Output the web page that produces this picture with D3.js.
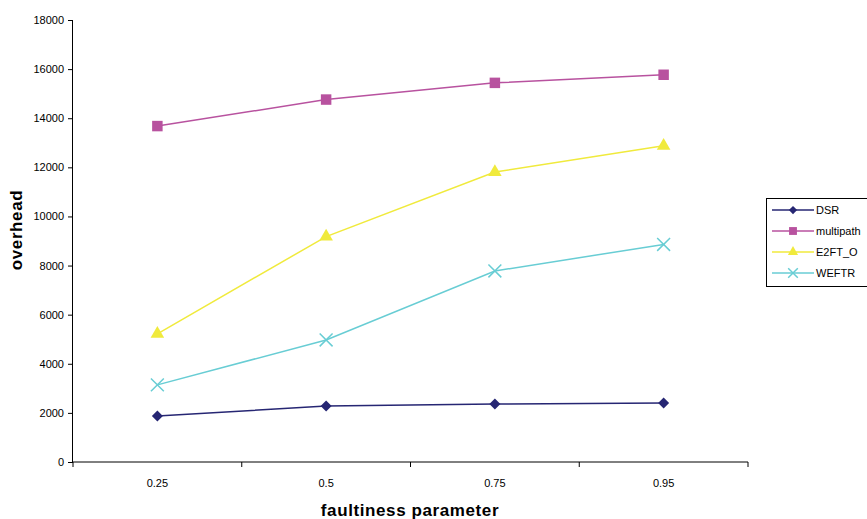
<!DOCTYPE html>
<html><head><meta charset="utf-8">
<script src="https://cdn.jsdelivr.net/npm/d3@7"></script>
<style>body{margin:0;background:#fff}svg{display:block}text{font-family:"Liberation Sans",Arial,sans-serif}</style>
</head><body>
<svg id="c" width="867" height="519"></svg>
<script>
const categories = ["0.25","0.5","0.75","0.95"];
const seriesNames = ["DSR","multipath","E2FT_O","WEFTR"];
const dsr = [1870, 2280, 2360, 2400];
const multipath = [13680, 14760, 15440, 15770];
const e2ft = [5220, 9180, 11810, 12880];
const weftr = [3140, 4970, 7780, 8860];
const yTicks = [0,2000,4000,6000,8000,10000,12000,14000,16000,18000];
const colors = ["#262673","#b8529f","#f0ea3c","#68cdd4"];
const symbols = ["diamond","square","triangle","x"];
const seriesData = [dsr, multipath, e2ft, weftr];

const svg = d3.select("#c");
const L = 73, R = 748, T = 20, B = 462;
const x = d3.scaleBand().domain(categories).range([L, R]);
const y = d3.scaleLinear().domain([0, 18000]).range([B, T]);

// y axis
const yAx = svg.append("g").attr("transform", `translate(${L},0)`)
  .call(d3.axisLeft(y).tickValues(yTicks).tickSize(5).tickPadding(4).tickFormat(d3.format("d")));
yAx.select(".domain").attr("d", `M-0.5,${T}V${B}`);
// x axis
const xAx = svg.append("g").attr("transform", `translate(0,${B})`)
  .call(d3.axisBottom(x).tickSize(0).tickPadding(17));
xAx.select(".domain").remove();
xAx.append("line").attr("x1", L).attr("x2", R).attr("stroke", "#000");
const bounds = [L].concat(categories.map(c => x(c) + x.bandwidth()));
xAx.selectAll(".bt").data(bounds).join("line").attr("class","bt")
  .attr("x1", d => d).attr("x2", d => d).attr("y1", 0).attr("y2", 5).attr("stroke", "#000");
svg.selectAll(".tick text").attr("font-size", 11).attr("fill", "#000").attr("font-family", "Liberation Sans, Arial, sans-serif");
svg.selectAll(".tick line").attr("stroke", "#000");
svg.selectAll(".domain").attr("stroke", "#000");

// axis titles
svg.append("text").attr("x", 410).attr("y", 516).attr("text-anchor", "middle")
  .attr("font-size", 17).attr("font-weight", "bold").attr("letter-spacing", 0.6).text("faultiness parameter");
svg.append("text").attr("transform", "translate(22,230) rotate(-90)").attr("text-anchor", "middle")
  .attr("font-size", 17).attr("font-weight", "bold").attr("letter-spacing", 0.6).text("overhead");

function sym(i, s) {
  const t = symbols[i];
  if (t === "diamond") { const h = 5.5*s; return `M0,${-h}L${h},0L0,${h}L${-h},0Z`; }
  if (t === "square") return d3.symbol(d3.symbolSquare, 110*s*s)();
  if (t === "triangle") return d3.symbol(d3.symbolTriangle, 80*s*s)();
  return d3.symbol(d3.symbolX, 110*s*s)();
}

const line = d3.line().x((d, j) => x(categories[j]) + x.bandwidth()/2).y(d => y(d));
seriesData.forEach((vals, i) => {
  const g = svg.append("g");
  g.append("path").attr("d", line(vals)).attr("fill", "none").attr("stroke", colors[i]).attr("stroke-width", 1.5);
  g.selectAll("path.m").data(vals).join("path").attr("class","m")
    .attr("transform", (d, j) => `translate(${x(categories[j]) + x.bandwidth()/2},${y(d)})`)
    .attr("d", sym(i, 1))
    .attr("fill", symbols[i] === "x" ? "none" : colors[i])
    .attr("stroke", colors[i]).attr("stroke-width", symbols[i] === "x" ? 1.5 : 0);
});

// legend
const lg = svg.append("g");
lg.append("rect").attr("x", 766.5).attr("y", 198.5).attr("width", 110).attr("height", 88)
  .attr("fill", "#fff").attr("stroke", "#000").attr("stroke-width", 1);
seriesNames.forEach((n, i) => {
  const yy = 210 + i*21;
  lg.append("line").attr("x1", 772).attr("x2", 814).attr("y1", yy).attr("y2", yy).attr("stroke", colors[i]).attr("stroke-width", 1.5);
  lg.append("path").attr("transform", `translate(793,${yy})`).attr("d", sym(i, 0.75))
    .attr("fill", symbols[i] === "x" ? "none" : colors[i]).attr("stroke", colors[i]).attr("stroke-width", symbols[i] === "x" ? 1.5 : 0);
  lg.append("text").attr("x", 816).attr("y", yy + 4).attr("font-size", 11).text(n);
});
</script>
</body></html>
